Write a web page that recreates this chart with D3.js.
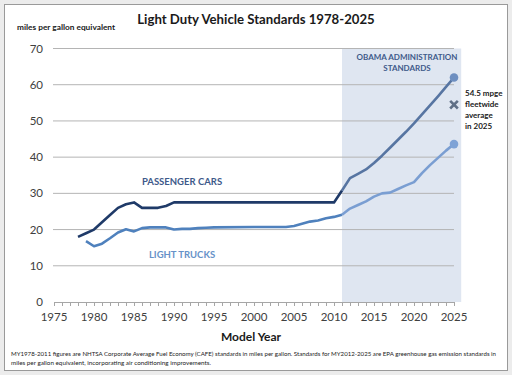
<!DOCTYPE html>
<html>
<head>
<meta charset="utf-8">
<script src="https://cdn.jsdelivr.net/npm/d3@7"></script>
<style>
  body { margin: 0; background: #ececec; }
  svg { display: block; font-family: Lato, "Open Sans", sans-serif; }
</style>
</head>
<body>
<svg id="chart" width="512" height="375"></svg>
<script>
// passenger cars, CAFE 1978-2011 then EPA standards 2012-2025
const carYears = [1978, 1979, 1980, 1981, 1982, 1983, 1984, 1985, 1986, 1987, 1988, 1989, 1990,
    1995, 2000, 2005, 2010, 2011];
const carValues = [18, 19, 20, 22, 24, 26, 27, 27.5, 26, 26, 26, 26.5, 27.5,
    27.5, 27.5, 27.5, 27.5, 30.8];
const carNewYears = [2011, 2012, 2013, 2014, 2015, 2016, 2017, 2018, 2019, 2020, 2021, 2022, 2023, 2024, 2025];
const carNewValues = [30.8, 34.2, 35.4, 36.6, 38.4, 40.4, 42.6, 44.8, 47.0, 49.3, 51.8, 54.3, 56.8, 59.4, 62.0];

// light trucks
const truckYears = [1979, 1980, 1981, 1982, 1983, 1984, 1985, 1986, 1987, 1988, 1989, 1990, 1991, 1992,
    1993, 1994, 1995, 2000, 2004, 2005, 2006, 2007, 2008, 2009, 2010, 2011];
const truckValues = [16.8, 15.4, 16.1, 17.6, 19.2, 20.1, 19.5, 20.4, 20.6, 20.6, 20.6, 20.0, 20.2, 20.2,
    20.4, 20.5, 20.6, 20.7, 20.7, 21.0, 21.6, 22.2, 22.5, 23.1, 23.5, 24.1];
const truckNewYears = [2011, 2012, 2013, 2014, 2015, 2016, 2017, 2018, 2019, 2020, 2021, 2022, 2023, 2024, 2025];
const truckNewValues = [24.1, 25.8, 26.8, 27.8, 29.1, 30.0, 30.2, 31.2, 32.2, 33.1, 35.6, 37.8, 39.8, 41.8, 43.6];

const fleetYear = 2025;
const fleetValue = 54.5;

const yTicks = [0, 10, 20, 30, 40, 50, 60, 70];
const xTicks = [1975, 1980, 1985, 1990, 1995, 2000, 2005, 2010, 2015, 2020, 2025];
const shadeRange = [2011, 2025.9];

const svg = d3.select('#chart');

// frame
svg.append('rect').attr('x', 4.5).attr('y', 4.5).attr('width', 503).attr('height', 366)
    .attr('fill', '#fff').attr('stroke', '#9a9a9a');

const x = d3.scaleLinear().domain([1975, 2025]).range([54, 454]);
const y = d3.scaleLinear().domain([0, 70]).range([302, 48.5]);

// shaded Obama standards band
svg.append('rect')
    .attr('x', x(shadeRange[0]))
    .attr('y', y(70))
    .attr('width', x(shadeRange[1]) - x(shadeRange[0]))
    .attr('height', y(0) - y(70))
    .attr('fill', '#dfe6f1');

// gridlines
svg.append('g').selectAll('line')
    .data(yTicks.filter(d => d > 0))
    .join('line')
    .attr('x1', x(1975) - 1).attr('x2', x(2025))
    .attr('y1', d => y(d)).attr('y2', d => y(d))
    .attr('stroke', '#b4b4b4').attr('stroke-width', 1);

// y labels
svg.append('g').selectAll('text')
    .data(yTicks)
    .join('text')
    .attr('x', 43).attr('y', d => y(d) + 4)
    .attr('text-anchor', 'end')
    .attr('font-size', 11.5)
    .attr('fill', '#404040')
    .text(d => d);

// x axis
const xAxis = d3.axisBottom(x)
    .tickValues(d3.range(1975, 2026))
    .tickSize(4)
    .tickFormat('');
const xg = svg.append('g').attr('transform', `translate(0,${y(0)})`).call(xAxis);
xg.selectAll('path, line').attr('stroke', '#a6a6a6');

svg.append('g').selectAll('text')
    .data(xTicks)
    .join('text')
    .attr('x', d => x(d)).attr('y', 321)
    .attr('text-anchor', 'middle')
    .attr('font-size', 11.5)
    .attr('fill', '#404040')
    .text(d => d);

// lines
const line = d3.line().x(d => x(d[0])).y(d => y(d[1]));

function drawSeries(years, values, color) {
    svg.append('path')
        .datum(d3.zip(years, values))
        .attr('d', line)
        .attr('fill', 'none')
        .attr('stroke', color)
        .attr('stroke-width', 2.6)
        .attr('stroke-linejoin', 'round');
}
drawSeries(truckYears, truckValues, '#4f81bd');
drawSeries(truckNewYears, truckNewValues, '#7a9ed2');
drawSeries(carYears, carValues, '#1f3a68');
drawSeries(carNewYears, carNewValues, '#5775a2');

// end markers
svg.append('circle').attr('cx', x(2025)).attr('cy', y(carNewValues[carNewValues.length - 1]))
    .attr('r', 4.3).attr('fill', '#6e8fc0');
svg.append('circle').attr('cx', x(2025)).attr('cy', y(truckNewValues[truckNewValues.length - 1]))
    .attr('r', 4.3).attr('fill', '#7fa3d6');

// fleetwide X marker
svg.append('path')
    .attr('d', d3.symbol(d3.symbolX, 40)())
    .attr('transform', `translate(${x(fleetYear)},${y(fleetValue)})`)
    .attr('stroke', '#5f6f86').attr('stroke-width', 2.6).attr('fill', 'none');

// titles
svg.append('text').attr('x', 256).attr('y', 24)
    .attr('text-anchor', 'middle').attr('font-size', 13.2).attr('font-weight', 'bold')
    .attr('fill', '#1a1a1a')
    .text('Light Duty Vehicle Standards 1978-2025');

svg.append('text').attr('x', 17).attr('y', 30)
    .attr('font-size', 8.3).attr('font-weight', 'bold').attr('fill', '#1a1a1a')
    .text('miles per gallon equivalent');

svg.append('text').attr('x', 251).attr('y', 341)
    .attr('text-anchor', 'middle').attr('font-size', 12).attr('font-weight', 'bold')
    .attr('fill', '#1a1a1a')
    .text('Model Year');

// series labels
svg.append('text').attr('x', 182).attr('y', 185)
    .attr('text-anchor', 'middle').attr('font-size', 9.5).attr('font-weight', 'bold')
    .attr('fill', '#3e5a8a').text('PASSENGER CARS');
svg.append('text').attr('x', 182).attr('y', 258)
    .attr('text-anchor', 'middle').attr('font-size', 9.5).attr('font-weight', 'bold')
    .attr('fill', '#6692c8').text('LIGHT TRUCKS');

const obama = svg.append('text').attr('text-anchor', 'middle')
    .attr('font-size', 8).attr('font-weight', 'bold').attr('fill', '#3e5a8a');
obama.append('tspan').attr('x', 407).attr('y', 60).text('OBAMA  ADMINISTRATION');
obama.append('tspan').attr('x', 407).attr('y', 71).text('STANDARDS');

const note = svg.append('text').attr('font-size', 8).attr('font-weight', 'bold').attr('fill', '#1a1a1a');
['54.5 mpge', 'fleetwide', 'average', 'in 2025'].forEach((t, i) => {
    note.append('tspan').attr('x', 465).attr('y', 96 + i * 11).text(t);
});

// footnote
const foot = [
    'MY1978-2011 figures are NHTSA Corporate Average Fuel Economy (CAFE) standards in miles per gallon.  Standards for MY2012-2025 are EPA greenhouse gas emission standards in',
    'miles per gallon equivalent, incorporating air conditioning improvements.'
];
svg.append('text').attr('x', 11).attr('y', 356)
    .attr('font-size', 6).attr('fill', '#1a1a1a')
    .attr('textLength', 485).attr('lengthAdjust', 'spacingAndGlyphs')
    .text(foot[0]);
svg.append('text').attr('x', 11).attr('y', 365)
    .attr('font-size', 6).attr('fill', '#1a1a1a')
    .attr('textLength', 200).attr('lengthAdjust', 'spacingAndGlyphs')
    .text(foot[1]);
</script>
</body>
</html>
